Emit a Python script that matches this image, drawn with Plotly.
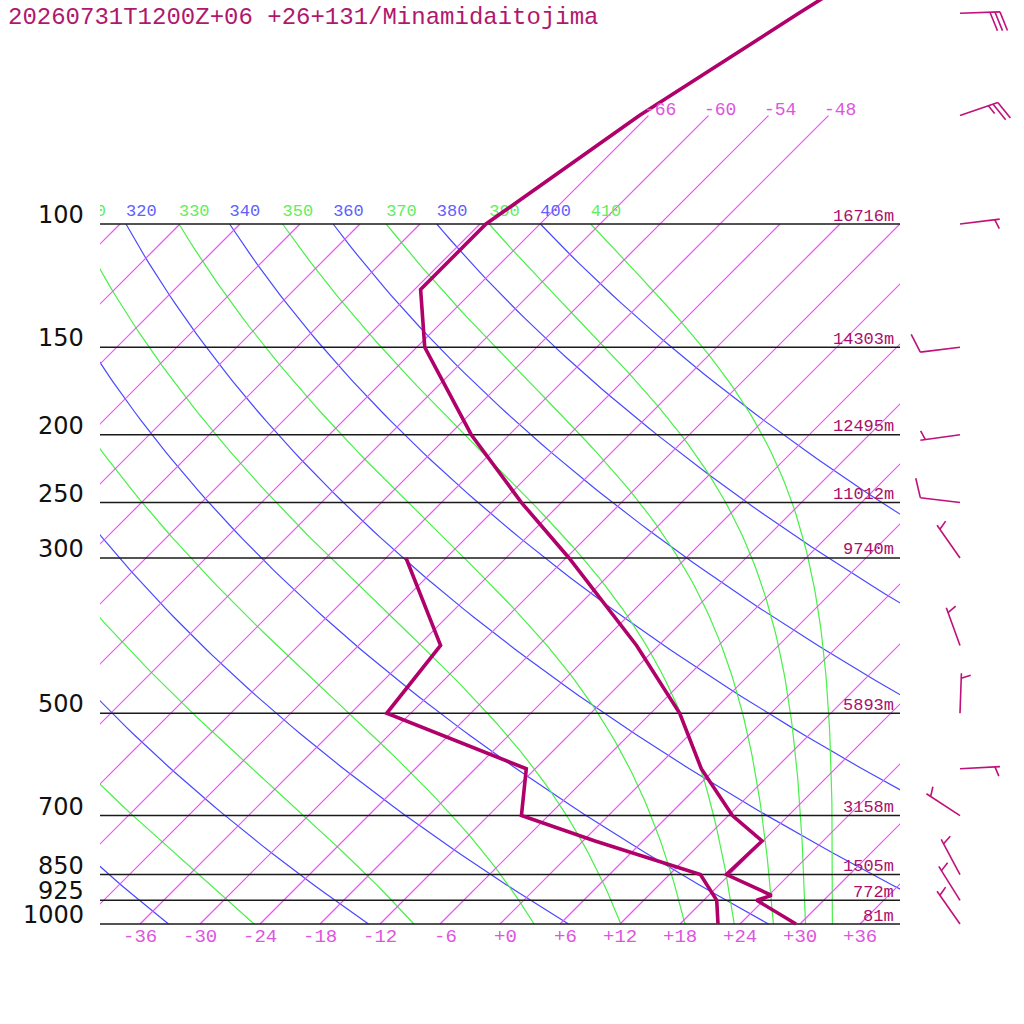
import numpy as np
import plotly.graph_objects as go

TITLE = "20260731T1200Z+06 +26+131/Minamidaitojima"

# standard levels drawn as horizontal lines, with their heights
LEVELS = [1000, 925, 850, 700, 500, 300, 250, 200, 150, 100]
HEIGHTS = ["81m", "772m", "1505m", "3158m", "5893m", "9740m", "11012m", "12495m", "14303m", "16716m"]

# temperature profile (hPa, degC)
TEMP_P = [1000, 925, 910, 850, 761, 700, 600, 500, 400, 300, 250, 200, 150, 124, 100, 70, 50, 30]
TEMP_C = [29.6, 23.3, 24.3, 17.7, 17.9, 12.4, 4.6, -3.1, -14.2, -29.7, -40.0, -51.8, -65.2, -71.4, -71.4, -66.9,
          -61.2, -52.0]

# dew point profile (hPa, degC)
DEW_P = [1000, 925, 850, 761, 700, 600, 500, 400, 300]
DEW_C = [21.8, 19.3, 15.1, 1.2, -8.7, -12.9, -32.4, -33.8, -46.0]

# winds: direction (deg) and speed (kt)
WIND_P = [1000, 925, 850, 700, 600, 500, 400, 300, 250, 200, 150, 100, 70, 50]
WIND_DIR = [325, 328, 332, 303, 87, 2, 340, 325, 277, 262, 263, 83, 71, 88]
WIND_KT = [5, 5, 5, 5, 5, 5, 5, 5, 10, 5, 10, 5, 25, 30]

# background lines
ISOTHERMS = [-108, -102, -96, -90, -84, -78, -72, -66, -60, -54, -48, -42, -36, -30, -24, -18, -12, -6, 0, 6, 12, 18,
             24, 30, 36]
ISOTHERMS_HIGH = [-66, -60, -54, -48]  # drawn up to 70 hPa and labelled there
T_TICKS = [-36, -30, -24, -18, -12, -6, 0, 6, 12, 18, 24, 30, 36]
THETA = [240, 260, 280, 300, 320, 340, 360, 380, 400]
THETA_E = [250, 270, 290, 310, 330, 350, 370, 390, 410]

K = 700 / np.log(10)  # pixels per ln(p)

MONO = "Liberation Mono"
DARK = "rgb(176,0,106)"
ORCHID = "rgb(236,80,246)"
BLUE = "rgb(72,72,255)"
GREEN = "rgb(72,240,72)"


def ypx(p):
    return 924 - K * np.log(1000 / np.asarray(p, dtype=float))


def p_at(y):
    return 1000 * np.exp(-(924 - np.asarray(y, dtype=float)) / K)


def skew_x(t, p):
    return 500 + 10 * np.asarray(t, dtype=float) + (924 - ypx(p))


def theta_e_sat(tk, p):
    tc = tk - 273.15
    es = 6.112 * np.exp(17.67 * tc / (tc + 243.5))
    ok = es < 0.5 * p
    r = np.where(ok, 0.622 * es / np.where(ok, p - es, 1.0), 0.0)
    th = tk * (1000 / p) ** (0.2854 * (1 - 0.28 * r)) * np.exp((3376 / tk - 2.54) * r * (1 + 0.81 * r))
    return np.where(ok, th, 1e9)


def moist_adiabat(the, p):
    lo = np.full_like(p, 150.0)
    hi = np.full_like(p, 330.0)
    for _ in range(60):
        mid = (lo + hi) / 2
        above = theta_e_sat(mid, p) > the
        hi = np.where(above, mid, hi)
        lo = np.where(above, lo, mid)
    return (lo + hi) / 2 - 273.15


def barb(p, d, spd, x0=960, length=40, gap=5):
    y0 = float(ypx(p))
    a = np.radians(d)
    ux, uy = np.sin(a), -np.cos(a)
    nx, ny = -uy, ux
    tx, ty = x0 + length * ux, y0 + length * uy
    xs, ys = [x0, tx, None], [y0, ty, None]
    n10, n5 = divmod(int(round(spd / 5)), 2)
    pos = 1 if n10 == 0 else 0
    tilt = np.radians(20)
    for size in [20] * n10 + [10] * n5:
        sx, sy = tx - pos * gap * ux, ty - pos * gap * uy
        ex = sx + size * (np.cos(tilt) * nx + np.sin(tilt) * ux)
        ey = sy + size * (np.cos(tilt) * ny + np.sin(tilt) * uy)
        xs += [sx, ex, None]
        ys += [sy, ey, None]
        pos += 1
    return xs, ys


fig = go.Figure()
p_grid = np.geomspace(1000, 100, 90)

# dry adiabats
for th in THETA:
    t = th * (p_grid / 1000) ** 0.2857 - 273.15
    fig.add_trace(go.Scatter(x=skew_x(t, p_grid), y=p_grid, mode="lines",
                             line=dict(color=BLUE, width=1.2), hoverinfo="skip"))

# saturated adiabats
for the in THETA_E:
    t = moist_adiabat(the, p_grid)
    fig.add_trace(go.Scatter(x=skew_x(t, p_grid), y=p_grid, mode="lines",
                             line=dict(color=GREEN, width=1.2), hoverinfo="skip"))

# isotherms
iso_x, iso_y = [], []
for t in ISOTHERMS:
    top = 70 if t in ISOTHERMS_HIGH else 100
    iso_x += [float(v) for v in skew_x([t, t], [1000, top])] + [None]
    iso_y += [1000, top, None]
fig.add_trace(go.Scatter(x=iso_x, y=iso_y, mode="lines", line=dict(color=ORCHID, width=1.2), hoverinfo="skip"))

# adiabat labels along 100 hPa
lab_p = float(p_at(ypx(100) - 12))
for vals, col, func in [(THETA, "#6060ff", lambda v: v * 0.1 ** 0.2857 - 273.15),
                        (THETA_E, "#60ee60", lambda v: moist_adiabat(v, np.array([100.0]))[0])]:
    xs = [float(skew_x(func(v), 100)) for v in vals]
    fig.add_trace(go.Scatter(x=xs, y=[lab_p] * len(vals), mode="text", text=[str(v) for v in vals],
                             textposition="middle right", cliponaxis=True,
                             textfont=dict(family=MONO, size=17, color=col), hoverinfo="skip"))

# pressure levels
for p in LEVELS:
    fig.add_trace(go.Scatter(x=[100, 900], y=[p, p], mode="lines", line=dict(color="#1a1a1a", width=1.5),
                             hoverinfo="skip"))

# sounding
fig.add_trace(go.Scatter(x=skew_x(DEW_C, DEW_P), y=DEW_P, mode="lines", line=dict(color=DARK, width=3.6),
                         hoverinfo="skip"))
fig.add_trace(go.Scatter(x=skew_x(TEMP_C, TEMP_P), y=TEMP_P, mode="lines", line=dict(color=DARK, width=3.6),
                         hoverinfo="skip"))

# wind barbs
bx, by = [], []
for p, d, s in zip(WIND_P, WIND_DIR, WIND_KT):
    xs, ys = barb(p, d, s)
    bx += xs
    by += [None if v is None else float(p_at(v)) for v in ys]
fig.add_trace(go.Scatter(x=bx, y=by, mode="lines", line=dict(color="rgb(192,16,122)", width=1.6),
                         xaxis="x2", yaxis="y", hoverinfo="skip"))

# texts
for p in LEVELS:
    fig.add_annotation(x=86, y=np.log10(p), xref="x2", yref="y", text=str(p), showarrow=False,
                       xanchor="right", yanchor="middle", yshift=9,
                       font=dict(family="DejaVu Sans", size=24, color="#111111"))
for p, h in zip(LEVELS, HEIGHTS):
    fig.add_annotation(x=896, y=np.log10(p), xref="x2", yref="y", text=h, showarrow=False,
                       xanchor="right", yanchor="middle", yshift=8,
                       font=dict(family=MONO, size=17, color="#a8106a"))
for t in T_TICKS:
    lab = ("+" if t >= 0 else "-") + str(abs(t))
    fig.add_annotation(x=float(skew_x(t, 1000)) + 19, y=3.0, xref="x2", yref="y", text=lab, showarrow=False,
                       xanchor="right", yanchor="middle", yshift=-13,
                       font=dict(family=MONO, size=19, color="#dd55dd"))
for t in ISOTHERMS_HIGH:
    fig.add_annotation(x=float(skew_x(t, 70)) - 6, y=np.log10(70), xref="x2", yref="y", text=str(t),
                       showarrow=False, xanchor="left", yanchor="middle", yshift=6,
                       font=dict(family=MONO, size=18, color="#dd55dd"))
fig.add_annotation(x=6, y=1 - 17 / 1024, xref="x2", yref="paper", text=TITLE, showarrow=False, xanchor="left",
                   yanchor="middle", font=dict(family=MONO, size=24, color="#b0186e"))

fig.update_layout(
    width=1024, height=1024, margin=dict(l=0, r=0, t=0, b=0),
    paper_bgcolor="white", plot_bgcolor="rgba(0,0,0,0)", showlegend=False,
    xaxis=dict(domain=[100 / 1024, 900 / 1024], range=[100, 900], visible=False),
    xaxis2=dict(domain=[0, 1], range=[0, 1024], anchor="y", visible=False),
    yaxis=dict(type="log", range=[np.log10(float(p_at(1024))), np.log10(float(p_at(0)))], visible=False),
)

fig.write_html("out.html", config={"displayModeBar": False},
               post_script="document.body.style.margin='0';")
